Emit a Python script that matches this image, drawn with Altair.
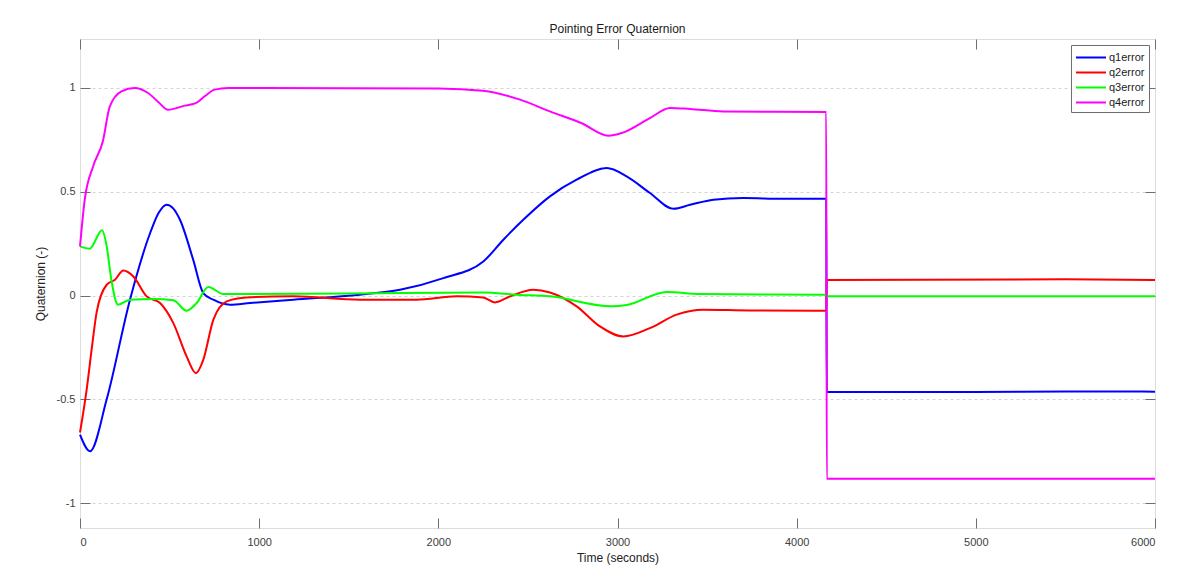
import altair as alt
import pandas as pd

# ---- data ----
series_names = ["q1error", "q2error", "q3error", "q4error"]
series_colors = ["#0000ff", "#ff0000", "#00ff00", "#ff00ff"]

t_q1 = [0, 56, 149, 279, 391, 440, 484, 520, 558, 632, 688, 744, 837, 949, 1190, 1563, 1786,
        2028, 2251, 2363, 2474, 2623, 2772, 2940, 3051, 3181, 3312, 3405, 3535, 3702, 3925,
        4165, 4168, 5000, 5500, 6000]
v_q1 = [-0.67, -0.75, -0.50, -0.02, 0.30, 0.40, 0.438, 0.42, 0.365, 0.172, 0.012, -0.02, -0.044,
        -0.036, -0.02, 0.004, 0.028, 0.084, 0.164, 0.269, 0.365, 0.478, 0.558, 0.614, 0.574,
        0.494, 0.418, 0.437, 0.462, 0.47, 0.466, 0.466, -0.465, -0.465, -0.462, -0.463]

t_q2 = [0, 37, 65, 93, 149, 195, 242, 298, 372, 447, 521, 595, 647, 688, 744, 819, 930, 1190,
        1563, 1879, 2102, 2250, 2316, 2400, 2530, 2623, 2772, 2902, 3032, 3181, 3330, 3479,
        3740, 4165, 4168, 5500, 6000]
v_q2 = [-0.66, -0.454, -0.26, -0.08, 0.052, 0.076, 0.121, 0.092, -0.004, -0.036, -0.133, -0.293,
        -0.374, -0.31, -0.117, -0.028, -0.009, -0.004, -0.02, -0.02, -0.004, -0.01, -0.033,
        -0.004, 0.028, 0.015, -0.052, -0.149, -0.197, -0.157, -0.092, -0.068, -0.072, -0.073,
        0.075, 0.078, 0.075]

t_q3 = [0, 54, 123, 149, 175, 212, 279, 409, 521, 595, 651, 716, 800, 1500, 2251, 2437, 2623,
        2967, 3051, 3274, 3460, 4165, 4168, 6000]
v_q3 = [0.237, 0.226, 0.314, 0.237, 0.076, -0.044, -0.02, -0.017, -0.023, -0.073, -0.036, 0.041,
        0.007, 0.01, 0.015, 0.004, -0.004, -0.052, -0.046, 0.017, 0.007, 0.004, -0.004, -0.004]

t_q4 = [0, 26, 73, 128, 166, 231, 305, 380, 440, 491, 584, 649, 696, 752, 826, 1000, 2000, 2249,
        2456, 2623, 2800, 2949, 3023, 3181, 3293, 3405, 3591, 4165, 4168, 6000]
v_q4 = [0.237, 0.46, 0.622, 0.745, 0.91, 0.984, 1.0, 0.976, 0.93, 0.895, 0.915, 0.928, 0.96,
        0.992, 1.0, 1.0, 0.998, 0.987, 0.944, 0.887, 0.83, 0.77, 0.783, 0.855, 0.904, 0.899,
        0.887, 0.884, -0.883, -0.883]

x_ticks = [0, 1000, 2000, 3000, 4000, 5000, 6000]
y_ticks = [-1, -0.5, 0, 0.5, 1]

rows = []
for name, ts, vs in zip(series_names, [t_q1, t_q2, t_q3, t_q4], [v_q1, v_q2, v_q3, v_q4]):
    for t, v in zip(ts, vs):
        rows.append({"series": name, "time": t, "q": v})
df = pd.DataFrame(rows)

FONT = "Liberation Sans"
x_scale = alt.Scale(domain=[0, 6000], nice=False, zero=False)
y_scale = alt.Scale(domain=[-1.12, 1.236], nice=False, zero=False)
color_scale = alt.Scale(domain=series_names, range=series_colors)

lines = alt.Chart(df).mark_line(interpolate="monotone", strokeWidth=2).encode(
    x=alt.X("time:Q", scale=x_scale,
            axis=alt.Axis(values=x_ticks, format="d", title="Time (seconds)", ticks=False,
                          tickSize=0, labelPadding=8, titlePadding=5, grid=False, domain=False,
                          labelFontSize=11, titleFontSize=12, labelColor="#404040",
                          titleColor="#222222", labelFont=FONT, titleFont=FONT,
                          titleFontWeight="normal")),
    y=alt.Y("q:Q", scale=y_scale,
            axis=alt.Axis(values=y_ticks, labelExpr="'' + datum.value", title="Quaternion (-)",
                          ticks=False, tickSize=0, labelPadding=5, titlePadding=9, grid=True,
                          gridDash=[3, 3], gridColor="#d4d4d4", domain=False,
                          labelFontSize=11, titleFontSize=12, labelColor="#404040",
                          titleColor="#222222", labelFont=FONT, titleFont=FONT,
                          titleFontWeight="normal")),
    color=alt.Color("series:N", scale=color_scale,
                    legend=alt.Legend(title=None, orient="top-right", offset=6,
                                      symbolType="M-1,0H3", symbolSize=225, symbolStrokeWidth=2,
                                      labelFontSize=11, labelFont=FONT, labelColor="#1a1a1a",
                                      labelOffset=17,
                                      fillColor="white", strokeColor="#6e6e6e", padding=4,
                                      rowPadding=1, cornerRadius=0)),
    detail="series:N",
)


def tick_layer(x_orient, y_orient):
    return alt.Chart(df).mark_point(opacity=0).encode(
        x=alt.X("time:Q", scale=x_scale,
                axis=alt.Axis(orient=x_orient, values=x_ticks, labels=False, title=None,
                              grid=False, domain=False, ticks=True, tickSize=10,
                              tickColor="#6e6e6e", tickWidth=1, offset=-10)),
        y=alt.Y("q:Q", scale=y_scale,
                axis=alt.Axis(orient=y_orient, values=y_ticks, labels=False, title=None,
                              grid=False, domain=False, ticks=True, tickSize=10,
                              tickColor="#6e6e6e", tickWidth=1, offset=-10)),
    )

chart = alt.layer(
    lines,
    tick_layer("bottom", "left"),
    tick_layer("top", "right"),
).resolve_axis(x="independent", y="independent").properties(
    width=1075,
    height=489,
    title=alt.TitleParams("Pointing Error Quaternion", fontSize=12, font=FONT,
                          fontWeight="normal", color="#1a1a1a", offset=3, anchor="middle"),
    autosize=alt.AutoSizeParams(type="none"),
    padding={"left": 72, "top": 31, "right": 15, "bottom": 46},
).configure_view(stroke="#a8a8a8", strokeWidth=1).configure(background="white")

chart.save("out.html", embed_options={"renderer": "svg", "actions": False})
